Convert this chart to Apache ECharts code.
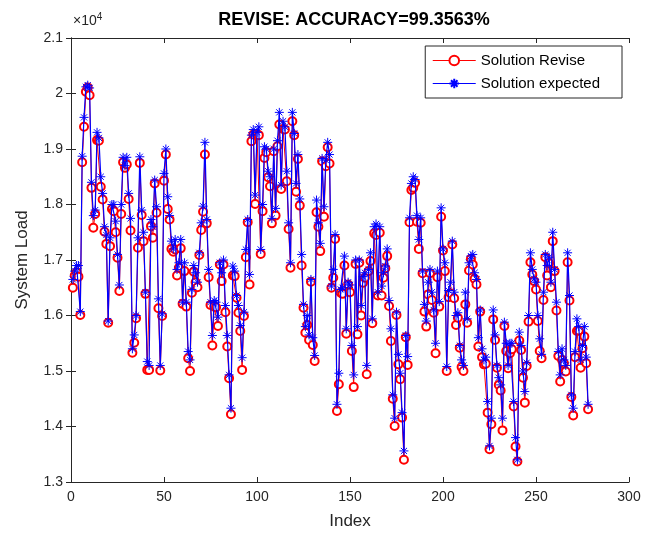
<!DOCTYPE html>
<html>
<head>
<meta charset="utf-8">
<script src="https://cdn.jsdelivr.net/npm/echarts@6/dist/echarts.min.js"></script>
<style>
  html, body { margin: 0; padding: 0; background: #fff; }
  #chart { width: 665px; height: 536px; }
</style>
</head>
<body>
<div id="chart"></div>
<script>
// system load, index 1..278
var expected = [
  16650, 16800, 16900, 16900, 16070, 18870, 19570, 20120, 20150, 20100,
  18400, 17800, 17900, 19300, 19200, 18500, 18200, 17600, 17450, 15900,
  17400, 18000, 18000, 17700, 17100, 16550, 18000, 18850, 18700, 18850,
  18200, 17750, 15400, 15650, 16000, 17400, 18860, 17900, 17500, 16420,
  15170, 15100, 17730, 17600, 18440, 17960, 16300, 15100, 16030, 18560,
  19000, 18140, 17800, 17340, 17200, 17370, 16830, 16950, 17370, 16240,
  16950, 16240, 15350, 15200, 16470, 16900, 16770, 16600, 17130, 17670,
  17970, 19120, 17730, 16830, 16240, 15640, 16270, 16240, 15970, 16950,
  16770, 17000, 16180, 15640, 14930, 14330, 16890, 16800, 16360, 16180,
  15820, 15240, 16060, 17190, 17730, 16740, 19250, 19350, 18170, 19300,
  19400, 17190, 18000, 19040, 19000, 18600, 18500, 17750, 19000, 17930,
  19150, 19660, 18350, 19500, 19400, 18600, 17670, 16950, 19660, 19280,
  18380, 18900, 18100, 17100, 16200, 15800, 16000, 15650, 16650, 15600,
  15280, 18080, 17670, 17300, 18830, 17960, 18800, 19120, 18900, 16530,
  16830, 17460, 14400, 14960, 16470, 16500, 17070, 15760, 16600, 16550,
  15460, 14930, 17000, 15800, 17000, 16180, 16700, 16770, 15100, 16830,
  17130, 15940, 17600, 17650, 16420, 17600, 16530, 16770, 16890, 17200,
  16270, 15760, 14570, 14150, 16060, 15300, 14960, 14250, 13560, 15640,
  15260, 17760, 18380, 18500, 18450, 17800, 17370, 17760, 16800, 16200,
  15900, 16600, 16830, 16420, 16100, 15500, 16800, 16250, 17940, 17200,
  16950, 15080, 16450, 16600, 17340, 16420, 16000, 16050, 15460, 15200,
  15100, 16420, 15940, 16950, 17070, 17100, 16770, 16650, 15600, 16100,
  15400, 15200, 15250, 14450, 13650, 14150, 16100, 15650, 15100, 14880,
  14750, 14150, 15880, 15500, 15100, 15500, 15500, 14450, 13800, 13400,
  15700, 15460, 15000, 14630, 15150, 16000, 17130, 16830, 16660, 16600,
  16000, 15580, 15300, 16420, 17100, 16900, 17050, 16600, 17500, 16830,
  16240, 15350, 14930, 15400, 15200, 15100, 17130, 16360, 14570, 14330,
  15350, 15940, 15800, 15200, 15460, 15800, 15250, 14400
];

var revise = [
  16500, 16720, 16780, 16700, 16010, 18760, 19400, 20030, 20110, 19970,
  18300, 17580, 17830, 19160, 19150, 18320, 18090, 17510, 17290, 15870,
  17250, 17920, 17880, 17500, 17040, 16440, 17830, 18760, 18660, 18720,
  18100, 17530, 15330, 15510, 15950, 17220, 18750, 17810, 17340, 16390,
  15020, 15020, 17610, 17400, 18380, 17850, 16130, 15010, 15990, 18430,
  18900, 17920, 17730, 17200, 17150, 17190, 16720, 16860, 17210, 16210,
  16800, 16160, 15230, 15000, 16410, 16790, 16600, 16510, 17090, 17540,
  17870, 18900, 17660, 16690, 16190, 15460, 16160, 16150, 15810, 16920,
  16620, 16920, 16060, 15440, 14870, 14220, 16720, 16710, 16320, 16050,
  15720, 15020, 15990, 17050, 17680, 16560, 19140, 19260, 18010, 19270,
  19250, 17110, 17880, 18840, 18940, 18490, 18330, 17660, 18960, 17800,
  19050, 19440, 18280, 19360, 19350, 18420, 17560, 16860, 19500, 19250,
  18230, 18820, 17980, 16900, 16140, 15690, 15830, 15560, 16610, 15470,
  15180, 17860, 17600, 17160, 18780, 17780, 18690, 19030, 18740, 16500,
  16680, 17380, 14280, 14760, 16410, 16390, 16900, 15670, 16560, 16420,
  15360, 14710, 16930, 15660, 16950, 16000, 16590, 16680, 14940, 16800,
  16980, 15860, 17480, 17450, 16360, 17490, 16360, 16680, 16850, 17070,
  16170, 15540, 14500, 14010, 16010, 15120, 14850, 14160, 13400, 15610,
  15110, 17680, 18260, 18300, 18390, 17690, 17200, 17670, 16760, 16070,
  15800, 16380, 16760, 16280, 16050, 15320, 16690, 16160, 17780, 17170,
  16800, 15000, 16330, 16400, 17280, 16310, 15830, 15960, 15420, 15070,
  15000, 16200, 15870, 16810, 17020, 16920, 16660, 16560, 15440, 16070,
  15250, 15120, 15130, 14250, 13590, 14040, 15930, 15560, 15060, 14750,
  14650, 13930, 15810, 15360, 15050, 15320, 15390, 14360, 13640, 13370,
  15550, 15380, 14880, 14430, 15090, 15890, 16960, 16740, 16620, 16470,
  15900, 15360, 15230, 16280, 17050, 16720, 16940, 16510, 17340, 16800,
  16090, 15270, 14810, 15200, 15140, 14990, 16960, 16270, 14530, 14200,
  15250, 15720, 15730, 15060, 15410, 15620, 15140, 14310
];

var xTicks = [0, 50, 100, 150, 200, 250, 300];
var yTicks = [13000, 14000, 15000, 16000, 17000, 18000, 19000, 20000, 21000];

var textColor = "#262626";
var font = "'Liberation Sans', Arial, Helvetica, sans-serif";
// matlab style '*' marker
var asterisk = "path://M0,5L10,5M5,0L5,10M1.6,1.6L8.4,8.4M8.4,1.6L1.6,8.4";

function toPairs(arr) {
  return arr.map(function (v, k) { return [k + 1, v]; });
}

var chart = echarts.init(document.getElementById("chart"), null, { renderer: "canvas" });

var boxAxis = {
  axisLine: { show: true, lineStyle: { color: textColor, width: 1 } },
  axisTick: { show: true, inside: true, length: 5, lineStyle: { color: textColor } },
  splitLine: { show: false },
};

chart.setOption({
  animation: false,
  backgroundColor: "#fff",
  textStyle: { fontFamily: font },
  title: {
    text: "REVISE: ACCURACY=99.3563%",
    left: 349,
    top: 6,
    textAlign: "center",
    textStyle: { fontSize: 18, fontWeight: "bold", color: "#000", fontFamily: font },
  },
  graphic: [
    {
      type: "text",
      left: 73,
      top: 12,
      style: {
        text: "×10{s|4}",
        fill: textColor,
        font: "14px " + font,
        rich: { s: { fontSize: 10, verticalAlign: "top", padding: [0, 0, 8, 0], fill: textColor } },
      },
    },
  ],
  legend: {
    orient: "vertical",
    right: 43,
    top: 46,
    backgroundColor: "#fff",
    borderColor: textColor,
    borderWidth: 1,
    padding: [7, 22, 7, 7],
    itemGap: 8,
    itemWidth: 43,
    itemHeight: 12,
    lineStyle: { width: 1 },
    textStyle: { fontSize: 15, color: "#000", fontFamily: font },
    data: ["Solution Revise", "Solution expected"],
  },
  grid: { left: 71, right: 36, top: 38, bottom: 54 },
  xAxis: [
    Object.assign({}, boxAxis, {
      type: "value",
      min: xTicks[0],
      max: xTicks[xTicks.length - 1],
      interval: 50,
      name: "Index",
      nameLocation: "middle",
      nameGap: 31,
      nameTextStyle: { fontSize: 17, color: textColor, fontFamily: font },
      axisLabel: { color: textColor, fontSize: 14, margin: 8, fontFamily: font },
    }),
    Object.assign({}, boxAxis, {
      type: "value",
      position: "top",
      min: xTicks[0],
      max: xTicks[xTicks.length - 1],
      interval: 50,
      axisLabel: { show: false },
    }),
  ],
  yAxis: [
    Object.assign({}, boxAxis, {
      type: "value",
      min: yTicks[0],
      max: yTicks[yTicks.length - 1],
      interval: 1000,
      name: "System Load",
      nameLocation: "middle",
      nameGap: 40,
      nameTextStyle: { fontSize: 17, color: textColor, fontFamily: font },
      axisLabel: {
        color: textColor,
        fontSize: 14,
        margin: 8,
        fontFamily: font,
        formatter: function (v) { return String(+(v / 10000).toFixed(1)); },
      },
    }),
    Object.assign({}, boxAxis, {
      type: "value",
      position: "right",
      min: yTicks[0],
      max: yTicks[yTicks.length - 1],
      interval: 1000,
      axisLabel: { show: false },
    }),
  ],
  series: [
    {
      name: "Solution Revise",
      type: "line",
      data: toPairs(revise),
      symbol: "emptyCircle",
      symbolSize: 8,
      lineStyle: { color: "#ff0000", width: 1 },
      itemStyle: { color: "#ff0000", borderColor: "#ff0000", borderWidth: 1 },
      emphasis: { disabled: true },
      z: 2,
    },
    {
      name: "Solution expected",
      type: "line",
      data: toPairs(expected),
      symbol: asterisk,
      symbolSize: 9,
      lineStyle: { color: "#0000ff", width: 1.2 },
      itemStyle: { color: "#0000ff", borderColor: "#0000ff", borderWidth: 1 },
      emphasis: { disabled: true },
      z: 3,
    },
  ],
});
</script>
</body>
</html>
